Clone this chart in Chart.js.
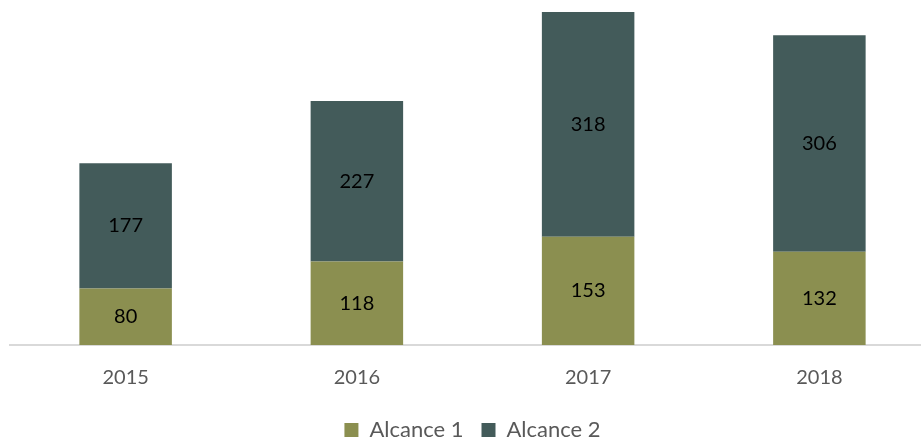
<!DOCTYPE html>
<html>
<head>
<meta charset="utf-8">
<script src="https://cdn.jsdelivr.net/npm/chart.js@4.4.1/dist/chart.umd.min.js"></script>
<style>
    html, body { margin: 0; padding: 0; background: #fff; overflow: hidden; }
    #wrap { position: relative; width: 945px; height: 439px; }
</style>
</head>
<body>
<div id="wrap"><canvas id="chart"></canvas></div>
<script>
const years = ["2015", "2016", "2017", "2018"];
const alcance1 = [80, 118, 153, 132];
const alcance2 = [177, 227, 318, 306];

const seriesNames = ["Alcance 1", "Alcance 2"];
const seriesColors = ["#8B8F50", "#435B5A"];

// write the value in the middle of each segment
const segmentLabels = {
    id: "segmentLabels",
    afterDatasetsDraw(chart) {
        const ctx = chart.ctx;
        ctx.save();
        ctx.font = "20px Lato";
        ctx.fillStyle = "#000";
        ctx.textAlign = "center";
        ctx.textBaseline = "middle";
        chart.data.datasets.forEach((ds, i) => {
            chart.getDatasetMeta(i).data.forEach((bar, j) => {
                ctx.fillText(ds.data[j], bar.x, (bar.y + bar.base) / 2);
            });
        });
        ctx.restore();
    }
};

new Chart(document.getElementById("chart"), {
    type: "bar",
    data: {
        labels: years,
        datasets: [
            { label: seriesNames[0], data: alcance1, backgroundColor: seriesColors[0] },
            { label: seriesNames[1], data: alcance2, backgroundColor: seriesColors[1] }
        ]
    },
    options: {
        responsive: true,
        maintainAspectRatio: false,
        animation: false,
        layout: { padding: { left: 10, right: 10, top: 0, bottom: 0 } },
        datasets: { bar: { categoryPercentage: 1, barPercentage: 0.4 } },
        scales: {
            x: {
                stacked: true,
                grid: { display: false, drawTicks: false },
                border: { display: true, color: "#d9d9d9", width: 2 },
                ticks: { color: "#595959", font: { family: "Lato", size: 20 }, padding: 21 },
                afterFit: (scale) => { scale.height = 56; }
            },
            y: {
                stacked: true,
                display: false,
                min: 0,
                max: 488
            }
        },
        plugins: {
            tooltip: { enabled: false },
            legend: {
                position: "bottom",
                maxHeight: 38,
                labels: {
                    color: "#595959",
                    font: { family: "Lato", size: 22 },
                    boxWidth: 14,
                    boxHeight: 14,
                    padding: 18
                }
            }
        }
    },
    plugins: [segmentLabels]
});
</script>
</body>
</html>
